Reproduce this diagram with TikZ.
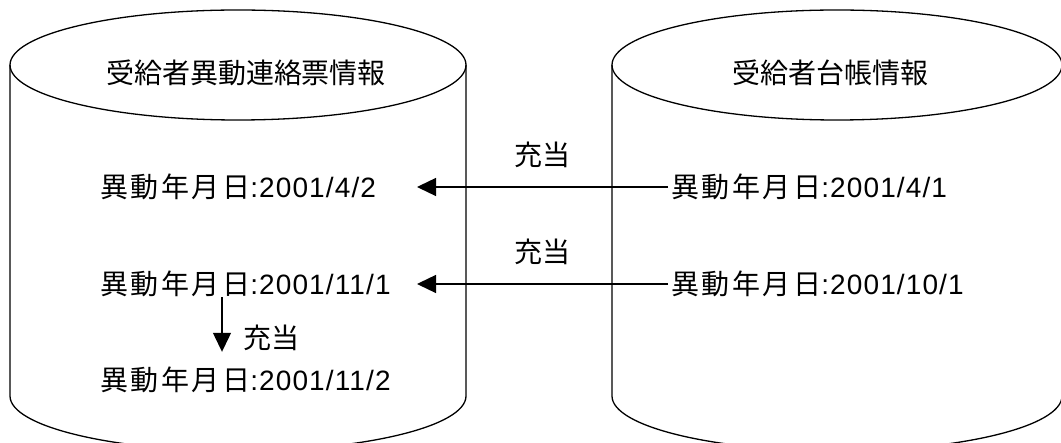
\documentclass[tikz,border=0pt]{standalone}
\usepackage{fontspec}
\setmainfont{Liberation Sans}[LetterSpace=4]
\newfontfamily\jp{Noto Sans CJK JP}[LetterSpace=9]
\newfontfamily\jptitle{Noto Sans CJK JP}
\usetikzlibrary{arrows.meta, positioning}
\tikzstyle{datetext} = [anchor=west, inner sep=3pt, font=\fontsize{28}{30}\selectfont]
\tikzstyle{title} = [inner sep=3pt, font=\fontsize{28}{30}\selectfont\jptitle]
\tikzstyle{lbl} = [inner sep=3pt, font=\fontsize{28}{30}\selectfont\jptitle]
\tikzstyle{drum} = [line width=1.3pt]
\tikzstyle{arrow} = [line width=1.3pt, -{Triangle[length=19pt,width=18pt]}]

\begin{document}
\begin{tikzpicture}[x=1pt, y=-1pt]

    \useasboundingbox (0,0) rectangle (1061,443);

    % cylinders
    \draw [drum] (238,65) ellipse [x radius=228pt, y radius=55pt];
    \draw [drum] (10,65) -- (10,396) arc [start angle=180, end angle=360, x radius=228pt, y radius=55pt] -- (466,65);
    \draw [drum] (837,65) ellipse [x radius=225pt, y radius=55pt];
    \draw [drum] (612,65) -- (612,396) arc [start angle=180, end angle=360, x radius=225pt, y radius=55pt] -- (1062,65);

    \node (idotitle) [title] at (246,73) {受給者異動連絡票情報};
    \node (daititle) [title] at (830,73) {受給者台帳情報};

    \node (ido1) [datetext] at (97,187) {{\jp 異動年月日}:2001/4/2};
    \node (ido2) [datetext] at (97,284) {{\jp 異動年月日}:2001/11/1};
    \node (ido3) [datetext] at (97,380) {{\jp 異動年月日}:2001/11/2};

    \node (dai1) [datetext] at (668,187) {{\jp 異動年月日}:2001/4/1};
    \node (dai2) [datetext] at (668,284) {{\jp 異動年月日}:2001/10/1};

    \coordinate (tip1) at (417,187);
    \coordinate (tip2) at (417,284);
    \coordinate (down) at (222,0);

    \draw [arrow] (dai1.west) -- node[lbl, above=16pt] {充当} (tip1);
    \draw [arrow] (dai2.west) -- node[lbl, above=16pt] {充当} (tip2);
    \draw [arrow, shorten <=-3pt, shorten >=12pt] (ido2.south -| down) -- node[lbl, right=18pt, pos=0.6] {充当} (ido3.north -| down);

\end{tikzpicture}
\end{document}
